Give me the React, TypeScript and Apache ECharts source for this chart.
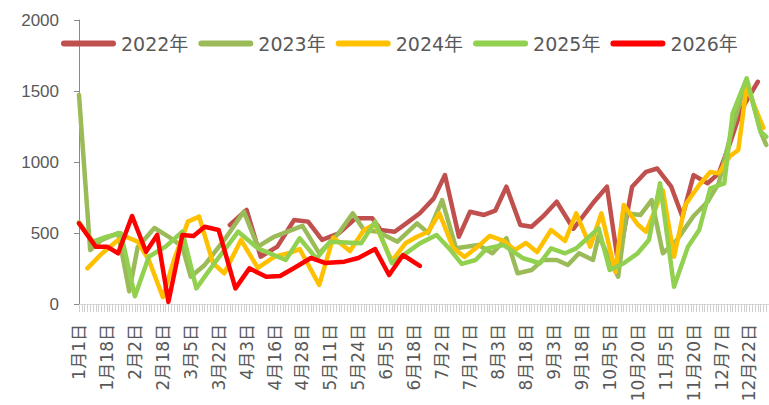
import React, { useEffect, useRef } from "react";
import * as echarts from "echarts";

// visible tick labels (every 10th category)
const tickLabels = [
  "1月1日", "1月18日", "2月2日", "2月18日", "3月5日", "3月22日", "4月3日", "4月16日",
  "4月28日", "5月11日", "5月24日", "6月5日", "6月18日", "7月2日", "7月17日", "8月3日",
  "8月18日", "9月3日", "9月18日", "10月5日", "10月20日", "11月5日", "11月20日", "12月7日", "12月22日",
];
const categoryCount = 248;

const seriesNames = ["2022年", "2023年", "2024年", "2025年", "2026年"];
const seriesColors = ["#C0504D", "#9BBB59", "#FFC000", "#92D050", "#FF0000"];

// [category index, value]
const data2022 = [
  [54, 556], [60, 662], [65, 333], [71, 404], [77, 592], [82, 580], [87, 451], [93, 498],
  [99, 604], [105, 604], [108, 521], [113, 509], [118, 580], [122, 639], [127, 744], [131, 908],
  [136, 474], [140, 650], [145, 627], [149, 657], [153, 826], [158, 556], [162, 544], [166, 615],
  [171, 720], [177, 530], [184, 711], [189, 826], [193, 285], [198, 826], [203, 931], [207, 954],
  [212, 826], [216, 615], [220, 908], [225, 850], [229, 920], [233, 1130], [237, 1366], [243, 1565],
];
const data2023 = [
  [0, 1472], [4, 380], [8, 450], [14, 500], [18, 90], [21, 400], [27, 535], [32, 475],
  [37, 404], [40, 192], [45, 275], [52, 451], [59, 650], [64, 404], [70, 475], [80, 550],
  [86, 357], [93, 500], [98, 639], [102, 521], [107, 509], [114, 439], [121, 568], [125, 500],
  [130, 732], [135, 392], [143, 415], [148, 357], [153, 463], [157, 216], [162, 239], [166, 310],
  [171, 310], [175, 275], [179, 357], [184, 310], [186, 480], [193, 192], [196, 639], [201, 627],
  [205, 732], [209, 357], [214, 450], [220, 620], [225, 720], [229, 850], [234, 1250], [239, 1577],
  [244, 1213], [246, 1120],
];
const data2024 = [
  [3, 251], [8, 352], [14, 451], [17, 472], [21, 439], [25, 310], [30, 49], [34, 310],
  [39, 580], [43, 615], [48, 287], [52, 216], [58, 451], [64, 254], [70, 333], [75, 357],
  [79, 387], [86, 134], [91, 468], [97, 373], [102, 521], [106, 563], [112, 303], [117, 430],
  [121, 474], [125, 509], [129, 639], [134, 394], [138, 331], [143, 408], [147, 479], [152, 444],
  [156, 380], [160, 430], [164, 366], [169, 521], [174, 444], [178, 639], [183, 404], [187, 639],
  [192, 225], [195, 697], [200, 560], [203, 509], [209, 800], [213, 333], [217, 697], [222, 838],
  [226, 930], [229, 920], [233, 1040], [236, 1085], [239, 1530], [245, 1240],
];
const data2025 = [
  [0, 575], [5, 439], [10, 474], [15, 498], [20, 55], [25, 333], [31, 404], [37, 509],
  [42, 110], [48, 275], [57, 509], [64, 392], [74, 310], [79, 463], [85, 320], [90, 439],
  [101, 427], [106, 580], [112, 287], [118, 370], [122, 427], [128, 486], [133, 380], [137, 282],
  [142, 310], [146, 392], [152, 415], [159, 322], [165, 287], [169, 392], [174, 357], [178, 392],
  [182, 463], [186, 533], [190, 239], [195, 287], [200, 357], [204, 451], [208, 850], [213, 122],
  [218, 404], [222, 521], [226, 815], [231, 850], [234, 1343], [239, 1589], [244, 1213], [246, 1178],
];
const data2026 = [
  [0, 568], [6, 404], [10, 404], [14, 357], [19, 620], [24, 368], [28, 486], [32, 15],
  [37, 486], [41, 479], [45, 544], [50, 521], [56, 110], [61, 251], [67, 192], [72, 197],
  [77, 254], [83, 324], [88, 289], [95, 298], [100, 324], [106, 387], [111, 204], [116, 345],
  [122, 268],
];
const allData = [data2022, data2023, data2024, data2025, data2026];

const yMin = 0;
const yMax = 2000;
const yStep = 500;

const categories = Array.from({ length: categoryCount }, (_, i) =>
  i % 10 === 0 && tickLabels[i / 10] ? tickLabels[i / 10] : "#" + i
);

const legendIcon =
  "path://M3,0 L52,0 A3,3 0 0 1 52,6 L3,6 A3,3 0 0 1 3,0 Z";

export default function App() {
  const ref = useRef<HTMLDivElement>(null);
  useEffect(() => {
    document.body.style.margin = "0";
    if (!ref.current) return;
    const chart = echarts.init(ref.current, undefined, { renderer: "svg" });
    const cjk = "'Noto Sans CJK SC', sans-serif";
    const labelFont = "'DejaVu Sans', 'Noto Sans CJK SC', sans-serif";
    chart.setOption({
      animation: false,
      backgroundColor: "#ffffff",
      textStyle: { fontFamily: cjk },
      legend: {
        data: seriesNames,
        left: 56,
        top: 29,
        itemWidth: 55,
        itemHeight: 6,
        itemGap: 10,
        icon: legendIcon,
        textStyle: { fontSize: 19, color: "#595959", fontFamily: labelFont },
      },
      grid: { left: 79, right: -4, top: 20, bottom: 101, containLabel: false },
      xAxis: {
        type: "category",
        data: categories,
        boundaryGap: false,
        axisLine: { show: true, lineStyle: { color: "#d9d9d9", width: 1 } },
        axisTick: { show: true, interval: 0, length: 8, lineStyle: { color: "#d0d0d0", width: 1 } },
        axisLabel: {
          interval: 9,
          rotate: 90,
          margin: 20,
          fontSize: 17,
          color: "#595959",
          fontFamily: labelFont,
        },
        splitLine: { show: false },
      },
      yAxis: {
        type: "value",
        min: yMin,
        max: yMax,
        interval: yStep,
        axisLine: { show: true, lineStyle: { color: "#898989", width: 1 } },
        axisTick: { show: true, length: 5, lineStyle: { color: "#898989" } },
        axisLabel: {
          fontSize: 17,
          color: "#595959",
          margin: 20,
          fontFamily: "'Liberation Sans', sans-serif",
          formatter: (v: number) => String(v),
        },
        splitLine: { show: false },
      },
      series: seriesNames.map((name, i) => ({
        name,
        type: "line",
        data: allData[i],
        symbol: "none",
        showSymbol: false,
        color: seriesColors[i],
        lineStyle: { color: seriesColors[i], width: 4.5, cap: "round", join: "round" },
        z: 2 + i,
      })),
    });
    return () => chart.dispose();
  }, []);
  return <div ref={ref} style={{ width: 769, height: 405 }} />;
}
